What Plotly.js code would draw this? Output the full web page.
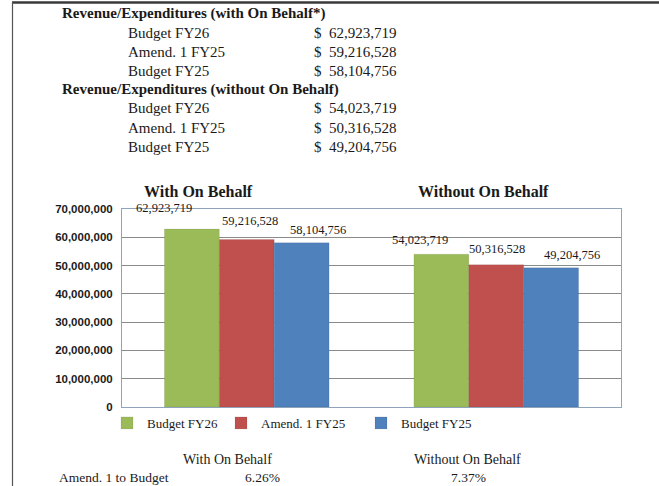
<!DOCTYPE html>
<html>
<head>
<meta charset="utf-8">
<script src="https://cdn.plot.ly/plotly-3.0.1.min.js"></script>
<style>
html,body{margin:0;padding:0;background:#fff;}
#chart{width:659px;height:486px;}
</style>
</head>
<body>
<div id="chart"></div>
<script>
// ---- data ----
const categories = ['With On Behalf', 'Without On Behalf'];
const seriesNames = ['Budget FY26', 'Amend. 1 FY25', 'Budget FY25'];
const budgetFY26 = [62923719, 54023719];
const amend1FY25 = [59216528, 50316528];
const budgetFY25 = [58104756, 49204756];
const tableHeaders = ['Revenue/Expenditures (with On Behalf*)', 'Revenue/Expenditures (without On Behalf)'];
const compareLabel = 'Amend. 1 to Budget';
const comparePct = ['6.26%', '7.37%'];
const yTickVals = [0, 10000000, 20000000, 30000000, 40000000, 50000000, 60000000, 70000000];

// ---- styling / layout ----
const colors = ['#9BBB59', '#C0504D', '#4F81BD'];
const serif = 'Liberation Serif, Times New Roman, serif';
const textCol = '#1a1a1a';
const L = 122, T = 209, W = 499, H = 198;
const px = X => (X - L) / W;
const py = Y => (T + H - Y) / H;

function fmt(n) {
  return String(n).replace(/\B(?=(\d{3})+(?!\d))/g, ',');
}

const seriesValues = [budgetFY26, amend1FY25, budgetFY25];
const legendIds = ['legend', 'legend2', 'legend3'];

const traces = seriesValues.map((vals, i) => ({
  type: 'bar',
  name: seriesNames[i],
  x: categories,
  y: vals,
  marker: {color: colors[i], line: {color: 'rgba(0,0,0,0.15)', width: 0.5}},
  legend: legendIds[i],
  hoverinfo: 'skip'
}));

const annotations = [];
// data labels (offsets mimic the hand-placed labels of the original)
const labelShiftX = [[-28, -21], [3, 1], [16, 21]];
const labelShiftY = [[21, 14], [19, 16], [13, 13]];
const barStep = 0.22;
seriesValues.forEach((vals, i) => {
  vals.forEach((v, j) => {
    annotations.push({
      x: j + (i - 1) * barStep, y: v, xref: 'x', yref: 'y',
      text: fmt(v), showarrow: false,
      xanchor: 'center', yanchor: 'middle',
      xshift: labelShiftX[i][j], yshift: labelShiftY[i][j],
      font: {family: serif, size: 12.5, color: textCol}
    });
  });
});

// group titles above the plot
const groupTitleX = [198, 483];
categories.forEach((c, j) => {
  annotations.push({
    x: px(groupTitleX[j]), y: py(191), xref: 'paper', yref: 'paper',
    text: '<b>' + c + '</b>', showarrow: false, xanchor: 'center', yanchor: 'middle',
    font: {family: serif, size: 16, color: textCol}
  });
});

// top table
const rowY = [[13, 33, 52, 71], [89, 108, 128, 147]];
tableHeaders.forEach((h, k) => {
  annotations.push({
    x: px(60), y: py(rowY[k][0]), xref: 'paper', yref: 'paper',
    text: '<b>' + h + '</b>', showarrow: false, xanchor: 'left', yanchor: 'middle',
    font: {family: serif, size: 15, color: textCol}
  });
  seriesValues.forEach((vals, i) => {
    const yy = py(rowY[k][i + 1]);
    annotations.push({
      x: px(126), y: yy, xref: 'paper', yref: 'paper',
      text: seriesNames[i], showarrow: false, xanchor: 'left', yanchor: 'middle',
      font: {family: serif, size: 15, color: textCol}
    });
    annotations.push({
      x: px(312), y: yy, xref: 'paper', yref: 'paper',
      text: '$', showarrow: false, xanchor: 'left', yanchor: 'middle',
      font: {family: serif, size: 15, color: textCol}
    });
    annotations.push({
      x: px(399), y: yy, xref: 'paper', yref: 'paper',
      text: fmt(vals[k]), showarrow: false, xanchor: 'right', yanchor: 'middle',
      font: {family: serif, size: 15, color: textCol}
    });
  });
});

// bottom comparison
const bottomColX = [227, 467];
categories.forEach((c, j) => {
  annotations.push({
    x: px(bottomColX[j]), y: py(459), xref: 'paper', yref: 'paper',
    text: c, showarrow: false, xanchor: 'center', yanchor: 'middle',
    font: {family: serif, size: 14, color: textCol}
  });
  annotations.push({
    x: px([262, 468][j]), y: py(477), xref: 'paper', yref: 'paper',
    text: comparePct[j], showarrow: false, xanchor: 'center', yanchor: 'middle',
    font: {family: serif, size: 13.5, color: textCol}
  });
});
annotations.push({
  x: px(57), y: py(477), xref: 'paper', yref: 'paper',
  text: compareLabel, showarrow: false, xanchor: 'left', yanchor: 'middle',
  font: {family: serif, size: 13.5, color: textCol}
});

const shapes = [
  {type: 'line', xref: 'paper', yref: 'paper', x0: px(12), x1: px(700), y0: py(2.5), y1: py(2.5),
   line: {color: '#3a3a3a', width: 2.5}},
  {type: 'line', xref: 'paper', yref: 'paper', x0: px(12.5), x1: px(12.5), y0: py(2), y1: py(490),
   line: {color: '#555', width: 1.2}}
];

const legendX = [107, 221, 361];
const legendFont = {family: serif, size: 13, color: textCol};
const layout = {
  width: 659, height: 486,
  margin: {l: L, r: 659 - L - W, t: T, b: 486 - T - H, pad: 0},
  paper_bgcolor: '#fff', plot_bgcolor: '#fff',
  barmode: 'group', bargap: 0.34, bargroupgap: 0,
  xaxis: {
    type: 'category', showticklabels: false, ticks: '',
    showline: true, mirror: true, linecolor: '#8FA3BA', linewidth: 1,
    showgrid: false, zeroline: false, fixedrange: true
  },
  yaxis: {
    range: [0, 70000000], tickvals: yTickVals, tickformat: ',d',
    showline: true, mirror: true, linecolor: '#8FA3BA', linewidth: 1,
    showgrid: true, gridcolor: '#8a8a8a', gridwidth: 1, zeroline: false,
    ticks: '', ticklabelstandoff: 6,
    tickfont: {family: 'Liberation Sans, Arial, sans-serif', size: 11.5, color: '#1a1a1a', weight: 'bold'},
    fixedrange: true
  },
  annotations: annotations,
  shapes: shapes,
  showlegend: true
};
legendIds.forEach((id, i) => {
  layout[id] = {
    x: px(legendX[i]), y: py(423), xanchor: 'left', yanchor: 'middle',
    orientation: 'h', bgcolor: 'rgba(0,0,0,0)', borderwidth: 0,
    font: legendFont, itemclick: false, itemdoubleclick: false
  };
});

Plotly.newPlot('chart', traces, layout, {displayModeBar: false, staticPlot: true});
</script>
</body>
</html>
